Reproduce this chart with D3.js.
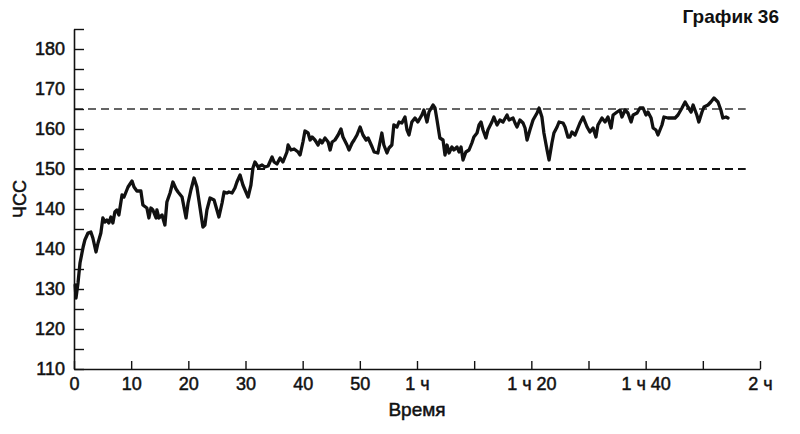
<!DOCTYPE html>
<html><head><meta charset="utf-8">
<script src="https://cdn.jsdelivr.net/npm/d3@7"></script>
<style>body{margin:0;background:#fff}svg{display:block}</style>
</head><body>
<script>
const minutes = [0.2,0.35,0.7,1.05,1.6,1.9,2.45,2.95,3.3,3.85,4.2,4.7,5.05,5.4,5.75,6.1,6.45,6.8,7.15,7.5,7.85,8.4,8.75,9.1,9.45,10.15,10.5,11.0,11.7,12.05,12.75,13.1,13.45,13.8,14.35,14.5,14.85,15.4,15.9,16.25,16.8,17.3,17.85,18.2,18.9,19.6,19.95,20.45,21.0,21.5,22.05,22.55,22.9,23.25,23.8,24.5,25.0,25.35,25.9,26.25,26.75,27.1,27.65,28.15,28.5,29.05,
29.55,30.45,30.95,31.3,31.65,32.2,32.9,33.4,33.95,34.65,35.0,35.5,36.05,36.55,37.25,37.45,37.95,38.5,39.2,39.55,40.05,40.4,40.95,41.3,41.65,42.15,42.7,43.05,43.4,43.9,44.45,44.8,45.15,45.65,46.2,46.7,47.05,47.75,48.1,48.65,49.0,49.5,50.05,50.55,51.1,51.45,52.15,52.5,53.15,53.5,53.85,54.2,54.75,55.1,55.6,55.95,56.5,56.85,57.35,57.9,
58.25,58.6,59.1,59.65,60.15,60.85,61.2,61.75,62.1,62.8,63.15,63.5,64.0,64.55,64.9,65.25,65.6,66.1,66.45,67.0,67.35,67.7,68.05,68.55,69.1,69.6,69.95,70.5,70.85,71.2,71.55,72.05,72.4,73.1,73.45,74.0,74.5,75.05,75.75,76.1,76.8,77.15,77.5,78.0,78.55,78.9,79.25,79.75,80.3,81.0,81.35,81.85,82.2,82.75,83.1,83.6,83.95,84.5,84.85,85.55,85.9,86.4,86.75,87.1,87.65,88.5,89.05,89.75,90.25,90.8,91.3,91.65,92.35,92.9,93.4,93.95,94.3,95.0,95.5,95.85,96.4,96.9,97.45,97.8,98.5,99.0,99.55,100.05,100.4,100.95,101.3,101.8,102.15,102.85,103.2,103.9,104.6,105.15,105.65,106.35,106.9,107.4,107.95,108.3,108.95,109.3,109.85,110.2,110.9,111.4,111.95,112.65,113.15,113.5,114.05,114.4];
const heartRate = [121,117.75,121.5,126.5,130.5,132.25,134,134.25,132.75,129.25,131.5,134,137.75,136.75,137.25,136.5,138,136.5,139.25,139.75,138.5,143.5,143,144.25,145.5,147,145.5,144.5,144.5,141,140.25,137.75,140.25,139.75,137.75,139.75,137.75,138.5,136,141.75,144,146.75,145,144.25,143,137.75,141.5,144.75,147.75,145.5,140.25,135.5,136,139.75,142.75,142.25,139.75,138,141.5,144.25,144,144.25,144,145.25,146.75,148.5,
146,143,146,150.25,151.75,150.5,151,150.5,150.75,153,151.75,151.25,152.75,151.75,154.25,156,154.75,155,154.25,153.5,156.75,159.5,159,157.25,158,157.25,156,157.25,156.5,157.75,156.75,154.75,156.75,157.25,158.5,160,158,156,154.75,156.5,157.25,158.5,160.5,158.5,157.25,157.75,155.5,154.25,154,156.5,159,156,154,155.25,156,161,160.5,161.75,161.5,163,
159.75,158.5,161.75,162.75,161.75,163.5,164.75,161.75,164.25,166,165.25,162.25,157.75,157.25,153.5,156,154,155.5,154.75,155.5,154.25,155.5,152.25,154.25,154.75,156.5,158,159,161,161.75,159.75,157.75,159.75,161.75,163,161,162.25,161.75,163.5,162.25,162.75,161.5,160.5,162.25,161.5,160.25,157.25,159.75,162.25,164,165.25,163,159,154.75,152.25,156.5,159,160.5,161.75,161.5,160.5,158,158,159.25,158.5,161.5,163,160.5,159.25,160.25,158,161,162.75,161.75,163,160.25,163.5,164.25,164.75,163,164.75,164,161.75,163.5,164,165.25,165.25,163.5,164.25,162.75,160.25,159.75,158.5,161,163,162.75,162.75,162.75,163.5,165.25,166.75,165.5,164.25,166,163.5,161.75,164.25,165.5,166,166.75,167.75,166.75,164.75,162.75,163,162.75];
const xTickValues = [0,10,20,30,40,50,60,70,80,90,100,110,120];
const xTickLabels = ["0","10","20","30","40","50","1 ч","","1 ч 20","","1 ч 40","","2 ч"];
const yTickValues = [100,105,110,115,120,125,130,135,140,145,150,155,160,165,170,175,180,185];
const yMajorValues = [100,110,120,130,140,150,160,170,180];
const yTickLabels = ["110","120","130","140","140","150","160","170","180"];
const thresholds = [150,165];
const title = "График 36";
const xTitle = "Время";
const yTitle = "ЧСС";

const W=800,H=434;
const font = "'Liberation Sans', Arial, Helvetica, sans-serif";
const svg = d3.select("body").append("svg").attr("width",W).attr("height",H)
  .style("font-family",font);
const x = d3.scaleLinear().domain([0,120]).range([74,760]);
const y = d3.scaleLinear().domain([100,185]).range([369,29]);

// threshold dashed lines
svg.selectAll("line.thr").data(thresholds).enter().append("line")
  .attr("class","thr")
  .attr("x1",x(0)+1).attr("x2",x(117.5))
  .attr("y1",d=>y(d)).attr("y2",d=>y(d))
  .attr("stroke",(d,i)=>i===0?"#111":"#333")
  .attr("stroke-width",(d,i)=>i===0?1.8:1.4)
  .attr("stroke-dasharray","8,5");

// axes
const xAxis = d3.axisBottom(x).tickValues(xTickValues)
  .tickFormat((d,i)=>xTickLabels[xTickValues.indexOf(d)])
  .tickSize(-8).tickSizeOuter(0).tickPadding(8);
const gx = svg.append("g").attr("transform",`translate(0,${y(100)})`).call(xAxis);
const yAxis = d3.axisLeft(y).tickValues(yTickValues)
  .tickFormat(d=>{const k=yMajorValues.indexOf(d);return k>=0?yTickLabels[k]:"";})
  .tickSize(-10).tickSizeOuter(0).tickPadding(9);
const gy = svg.append("g").attr("transform",`translate(${x(0)},0)`).call(yAxis);
[gx,gy].forEach(g=>{
  g.select(".domain").attr("stroke","#111").attr("stroke-width",1.6);
  g.selectAll(".tick line").attr("stroke","#111").attr("stroke-width",1.4);
  g.selectAll(".tick text").attr("fill","#111").style("font-family",font)
    .style("font-size","18px").attr("stroke","#111").attr("stroke-width",0.5);
});

// line
const line = d3.line().x((d,i)=>x(minutes[i])).y(d=>y(d));
svg.append("path").datum(heartRate)
  .attr("fill","none").attr("stroke","#111").attr("stroke-width",3.3)
  .attr("stroke-linejoin","round").attr("stroke-linecap","round")
  .attr("d",line);

// texts
svg.append("text").attr("x",779).attr("y",23).attr("text-anchor","end")
  .style("font-size","19px").style("font-weight","bold").attr("fill","#111").text(title);
svg.append("text").attr("x",417).attr("y",416).attr("text-anchor","middle")
  .style("font-size","19px").attr("fill","#111").attr("stroke","#111").attr("stroke-width",0.5).text(xTitle);
svg.append("text").attr("transform","translate(26,199) rotate(-90)")
  .attr("text-anchor","middle").style("font-size","18px").attr("fill","#111")
  .attr("stroke","#111").attr("stroke-width",0.5).text(yTitle);
</script>
</body></html>
